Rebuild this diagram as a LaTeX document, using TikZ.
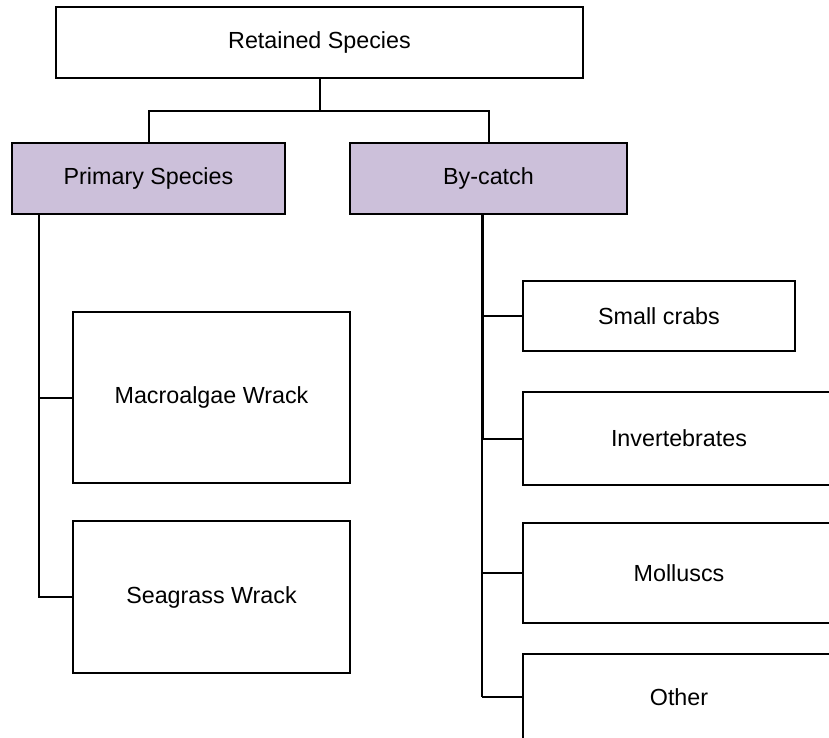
\documentclass[tikz,border=0pt]{standalone}
\usepackage{fontspec}
\setmainfont{Liberation Sans}
\definecolor{sivka}{RGB}{204,192,218}
\tikzset{
  okvir/.style={draw=black, line width=2pt, fill=white, inner sep=0pt,
    font=\fontsize{23.3}{28}\selectfont},
  glava/.style={okvir, fill=sivka},
  vez/.style={line width=2pt},
}
\begin{document}
\begin{tikzpicture}[x=1pt, y=-1pt]
  \useasboundingbox (0, 0) rectangle (829, 738);
  \clip (0, 0) rectangle (829, 738);
  % okvirji
  \node [okvir, minimum width=527pt, minimum height=71pt] (vrh) at (319.5, 42.5) {Retained Species};
  \node [glava, minimum width=273pt, minimum height=71pt] (prim) at (148.5, 178.5) {Primary Species};
  \node [glava, minimum width=277pt, minimum height=71pt] (prilov) at (488.5, 178.5) {By-catch};
  \node [okvir, minimum width=277pt, minimum height=171pt] (makro) at (211.5, 397.5) {Macroalgae Wrack};
  \node [okvir, minimum width=277pt, minimum height=152pt] (trava) at (211.5, 597) {Seagrass Wrack};
  \node [okvir, minimum width=272pt, minimum height=70pt] (rakci) at (659, 316) {Small crabs};
  \node [okvir, minimum width=312pt, minimum height=93pt] (nevret) at (679, 438.5) {Invertebrates};
  \node [okvir, minimum width=312pt, minimum height=100pt] (meh) at (679, 573) {Molluscs};
  \node [okvir, minimum width=312pt, minimum height=86pt] (drugo) at (679, 697) {Other};
  % koordinate
  \coordinate (razcep) at (319.5, 111);
  \coordinate (levi) at ([xshift=28pt]prim.south west);
  \coordinate (desni) at ([xshift=-6.5pt]prilov.south);
  % povezave
  \draw [vez] (vrh.south) -- (razcep) -| (prim.north);
  \draw [vez] (razcep) -| (prilov.north);
  \draw [vez] (levi) |- (makro.west);
  \draw [vez] (levi) |- (trava.west);
  \draw [line width=3pt] (desni) -- (desni |- nevret.west);
  \draw [line width=1.7pt] (desni |- nevret.west) -- (desni |- drugo.west);
  \draw [vez] (desni |- rakci.west) -- (rakci.west);
  \draw [vez] (desni |- nevret.west) -- (nevret.west);
  \draw [vez] (desni |- meh.west) -- (meh.west);
  \draw [vez] (desni |- drugo.west) -- (drugo.west);
\end{tikzpicture}
\end{document}
